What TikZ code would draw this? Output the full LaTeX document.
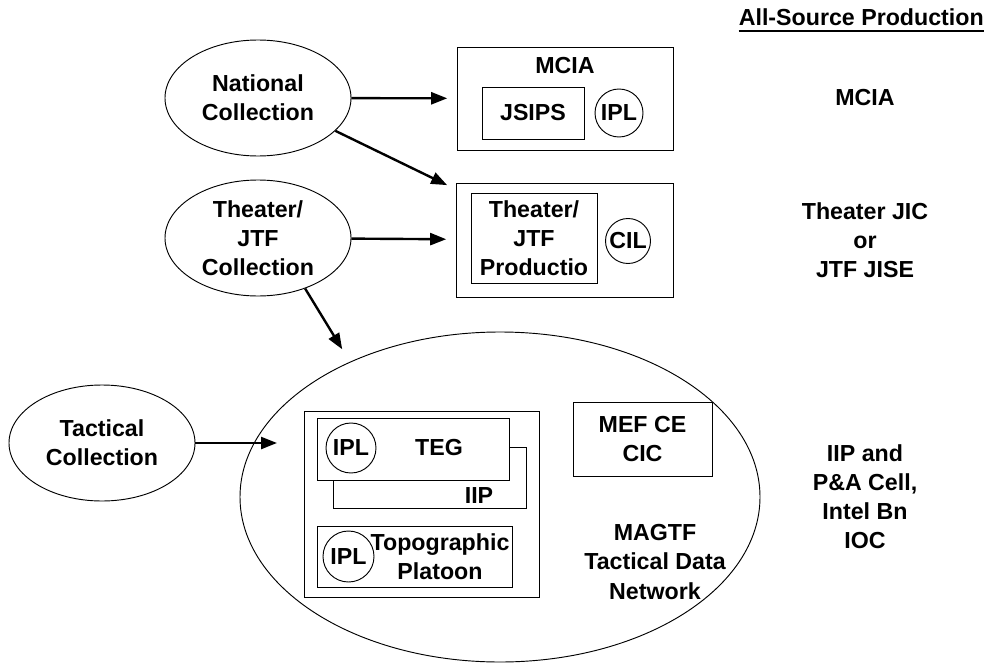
\documentclass[tikz,border=0pt]{standalone}
\usepackage{fontspec}
\setmainfont{Liberation Sans}
\usetikzlibrary{shapes.geometric,arrows.meta}

\begin{document}
\begin{tikzpicture}[x=0.75pt,y=-0.75pt,
        every node/.style={font=\bfseries\fontsize{17.4}{21.8}\selectfont, align=center},
        box/.style={draw, line width=0.7pt, inner sep=0pt},
        ring/.style={draw, circle, line width=0.7pt, inner sep=0pt},
        oval/.style={draw, ellipse, line width=0.7pt, inner sep=0pt, minimum width=139.5pt, minimum height=87pt},
        >={Triangle[length=12pt,width=9pt]},
        flow/.style={->, line width=1.8pt, shorten >=7pt}]
            \useasboundingbox (0,0) rectangle (988,667);

            \node[oval, minimum width=390pt, minimum height=247.5pt] (net) at (500,497) {};
            \node[box, minimum width=176.25pt, minimum height=139.5pt] (magbox) at (421.5,504) {};
            \node[box, minimum width=144.75pt, minimum height=45.75pt] (iipbox) at (429.5,477.5) {};
            \node[box, fill=white, minimum width=144pt, minimum height=46.5pt] (tegbox) at (413,449) {};
            \node[ring, minimum size=37.5pt] (iplteg) at (351,448) {IPL};
            \node (teg) at (439,448) {TEG};
            \node (iip) at (479,496) {IIP};
            \node[box, minimum width=146.25pt, minimum height=45.75pt] (topobox) at (414.5,556.5) {};
            \node[ring, minimum size=38.25pt] (ipltopo) at (348.5,556.5) {IPL};
            \node (topo) at (440,557) {Topographic\\Platoon};
            \node[box, minimum width=104.25pt, minimum height=55.5pt] (mef) at (642.5,439) {MEF CE\\CIC};
            \node (magtf) at (655,562) {MAGTF\\Tactical Data\\Network};

            \node[box, minimum width=162pt, minimum height=77.25pt] (mcia) at (565,98.5) {};
            \node (mcialbl) at (565,66) {MCIA};
            \node[box, minimum width=76.5pt, minimum height=39pt] (jsips) at (533,113) {JSIPS};
            \node[ring, minimum size=36pt] (iplmcia) at (619,113) {IPL};

            \node[box, minimum width=162.75pt, minimum height=85.5pt] (thbox) at (564.5,240) {};
            \node[box, minimum width=94.5pt, minimum height=67.5pt] (thprod) at (534,238) {Theater/\\JTF\\Productio};
            \node[ring, minimum size=33.75pt] (cil) at (628,241) {CIL};

            \node[oval] (nat) at (258,98) {National\\Collection};
            \node[oval] (th) at (258,238) {Theater/\\JTF\\Collection};
            \node[oval] (tac) at (102,443) {Tactical\\Collection};
            \coordinate (tacin) at (277,443);

            \draw[flow] (nat) -- (mcia);
            \draw[flow] (nat.-23) -- ([yshift=-5pt]thbox.north west);
            \draw[flow] (th) -- (thbox);
            \draw[flow, shorten >=11pt] (th.-47) -- (net.138);
            \draw[flow, shorten >=0pt] (tac) -- (tacin);

            \foreach \y/\txt [count=\i] in {98/MCIA, 240/{Theater JIC\\or\\JTF JISE}, 497/{IIP and\\P\&A Cell,\\Intel Bn\\IOC}} {
                \node (side\i) at (865,\y) {\txt};
            }

            \node[anchor=base east, inner sep=0pt] (title) at (984,26) {All-Source Production};
            \draw[line width=1.5pt] ([yshift=-3.75pt]title.base west) -- ([yshift=-3.75pt]title.base east);
        \end{tikzpicture}
\end{document}
